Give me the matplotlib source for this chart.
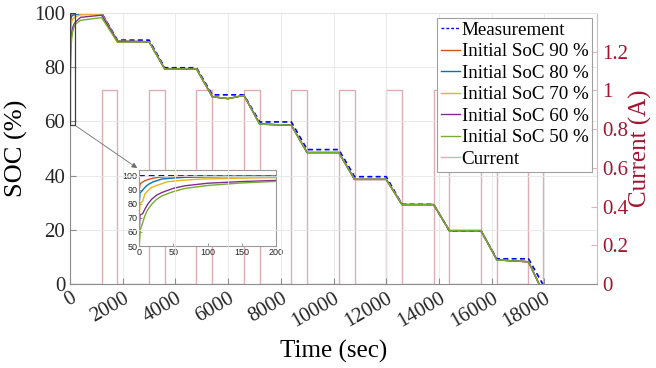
import matplotlib
matplotlib.use("Agg")
import matplotlib.pyplot as plt
from matplotlib.lines import Line2D

plt.rcParams["font.family"] = ["Liberation Serif", "DejaVu Serif"]

# Measured state of charge (%)
t_meas = [0, 1200, 1800, 3000, 3600, 4800, 5400, 6600, 7200, 8400, 9000,
          10200, 10800, 12000, 12600, 13800, 14400, 15600, 16200, 17400, 17940]
soc_meas = [100, 100, 90.0, 90.0, 79.8, 79.8, 69.8, 69.8, 59.8, 59.8, 49.6,
            49.6, 39.6, 39.6, 29.4, 29.4, 19.5, 19.5, 9.3, 9.3, 0]

# Estimator start-up for each initial SoC guess (first 1800 s)
t_init_90 = [0, 1, 2, 5, 10, 20, 30, 45, 60, 100, 150, 200, 400, 1200, 1800]
soc_init_90 = [90, 93.5, 94.5, 95.5, 96.8, 98.2, 98.9, 99.3, 99.5, 99.7, 99.8, 99.8, 99.9, 99.9, 89.7]

t_init_80 = [0, 1, 3, 6, 10, 14, 20, 33, 50, 67, 100, 150, 200, 400, 1200, 1800]
soc_init_80 = [80, 88, 88.5, 90.4, 92.5, 94, 95.5, 97.6, 98.3, 98.8, 99.1, 99.3, 99.4, 99.7, 99.8, 89.6]

t_init_70 = [0, 1, 3, 5, 8, 12, 18, 25, 42, 60, 91, 150, 200, 400, 1200, 1800]
soc_init_70 = [70, 80.5, 81, 82, 86.8, 89, 91.6, 93, 95.7, 96.6, 97.6, 98.2, 98.6, 99.3, 99.5, 89.5]

t_init_60 = [0, 1, 3, 5, 8, 12, 18, 25, 33, 50, 67, 100, 150, 200, 400, 1200, 1800]
soc_init_60 = [60, 72, 72.5, 73, 76, 79.5, 83.2, 86, 88, 91, 92.8, 94.6, 95.8, 96.6, 98.4, 99.2, 89.4]

t_init_50 = [0, 1.5, 4, 8, 12, 18, 25, 33, 50, 67, 100, 150, 200, 400, 1200, 1800]
soc_init_50 = [50, 61.6, 65.2, 71.2, 75.5, 79.6, 83, 85.6, 88.7, 90.9, 93, 94.8, 95.9, 97.3, 98.3, 89.2]

# Estimated SoC after the estimators have converged (common to all runs)
t_common = [3000, 3600, 4800, 5400, 6000, 6600, 7200, 8400, 9000, 10200,
            10800, 12000, 12600, 13800, 14400, 15600, 16200, 17400, 17800]
soc_common = [89.4, 79.3, 79.4, 69.1, 68.4, 69.6, 59.0, 58.6, 48.5, 48.5,
              38.6, 38.6, 29.3, 29.3, 19.7, 19.7, 8.9, 8.2, 0]

# Discharge current pulses (A)
pulse_start = [1200, 3000, 4800, 6600, 8400, 10200, 12000, 13800, 15600, 17400]
pulse_end = [1800, 3600, 5400, 7200, 9000, 10800, 12600, 14400, 16200, 17940]
pulse_amp = 1.0

labels = ["Initial SoC 90 %", "Initial SoC 80 %", "Initial SoC 70 %",
          "Initial SoC 60 %", "Initial SoC 50 %"]
colors = ["#D95319", "#0072BD", "#EDB120", "#7E2F8E", "#77AC30"]
init_t = [t_init_90, t_init_80, t_init_70, t_init_60, t_init_50]
init_soc = [soc_init_90, soc_init_80, soc_init_70, soc_init_60, soc_init_50]

cur_t, cur_i = [0], [0]
for s, e in zip(pulse_start, pulse_end):
    cur_t += [s, s, e, e]
    cur_i += [0, pulse_amp, pulse_amp, 0]

red = "#A2142F"
pink = "#E2B3BC"
axis_gray = "#8C8C8C"

fig = plt.figure(figsize=(6.56, 3.68), dpi=100)
ax = fig.add_axes([70 / 656, 84 / 368, 527 / 656, 271 / 368])
ax2 = ax.twinx()

# Current on the right axis
ax2.plot(cur_t, cur_i, color=red, alpha=0.35, lw=1.0)
ax2.set_ylim(0, 1.4)
ax2.set_yticks([0, 0.2, 0.4, 0.6, 0.8, 1.0, 1.2])
ax2.set_yticklabels(["0", "0.2", "0.4", "0.6", "0.8", "1", "1.2"])
ax2.tick_params(axis="y", colors=red, labelsize=15, direction="in", length=4, width=0.8)
ax2.tick_params(axis="y", color=pink)
ax2.set_ylabel("Current (A)", color=red, fontsize=18, labelpad=1)
for side, sp in ax2.spines.items():
    sp.set_visible(False)
ax2.spines["right"].set_visible(True)
ax2.spines["right"].set_color(pink)

# SoC on the left axis
ax.set_zorder(ax2.get_zorder() + 1)
ax.patch.set_visible(False)
ax.plot(t_meas, soc_meas, color="#0000FF", lw=1.2, ls=(0, (3, 2)))
for tt, ss, c in zip(init_t, init_soc, colors):
    ax.plot(tt + t_common, ss + soc_common, color=c, lw=1.0)

ax.set_xlim(0, 20000)
ax.set_ylim(0, 100)
ax.set_xticks(range(0, 18001, 2000))
ax.set_yticks(range(0, 101, 20))
ax.grid(True, color="#E6E6E6", lw=0.6)
ax.set_axisbelow(True)
ax.tick_params(axis="both", labelsize=15, direction="in", length=4, width=0.8,
               color=axis_gray, labelcolor="#262626")
for lab in ax.get_xticklabels():
    lab.set_rotation(30)
    lab.set_ha("right")
    lab.set_va("top")
    lab.set_rotation_mode("anchor")
ax.set_xlabel("Time (sec)", fontsize=18, labelpad=6)
ax.set_ylabel("SOC (%)", fontsize=19, labelpad=4)
ax.spines["top"].set_color("#E6E6E6")
ax.spines["right"].set_visible(False)
ax.spines["left"].set_color(axis_gray)
ax.spines["bottom"].set_color(axis_gray)

# Zoom window marker and arrow to the inset
ax.add_patch(plt.Rectangle((0, 58.5), 200, 41.5, fill=False, ec="#404040", lw=0.9, zorder=5))

axin = fig.add_axes([139.3 / 656, 122 / 368, 136.7 / 656, 76 / 368])
axin.plot([0, 200], [100, 100], color="#0000FF", lw=1.4, ls=(0, (3, 2)))
for tt, ss, c in zip(init_t, init_soc, colors):
    axin.plot(tt, ss, color=c, lw=1.0)
axin.set_xlim(0, 200)
axin.set_ylim(50, 104)
axin.set_xticks([0, 50, 100, 150, 200])
axin.set_yticks([50, 60, 70, 80, 90, 100])
axin.tick_params(labelsize=6.5, direction="in", length=2, width=0.6, color="#8C8C8C",
                 labelcolor="#262626", pad=1.5)
for lab in axin.get_xticklabels() + axin.get_yticklabels():
    lab.set_family(["Liberation Sans", "DejaVu Sans"])
for sp in axin.spines.values():
    sp.set_color("#9A9A9A")
    sp.set_linewidth(0.8)

ax.annotate("", xy=(-0.015, 1.025), xycoords=axin.transAxes,
            xytext=(200, 58.5), textcoords="data",
            arrowprops=dict(arrowstyle="-|>", color="#6E6E6E", lw=0.6,
                            mutation_scale=8, shrinkA=0, shrinkB=0))

# Legend
handles = [Line2D([], [], color="#0000FF", lw=1.0, ls=(0, (2, 1.5)))]
handles += [Line2D([], [], color=c, lw=1.0) for c in colors]
handles += [Line2D([], [], color=red, alpha=0.35, lw=1.0)]
leg = ax.legend(handles, ["Measurement"] + labels + ["Current"], loc="upper right",
                fontsize=13.7, frameon=True, fancybox=False, framealpha=1,
                edgecolor="#A0A0A0", borderaxespad=0.25, borderpad=0.2,
                labelspacing=0.22, handlelength=1.0, handletextpad=0.1)
leg.get_frame().set_linewidth(0.8)
leg.set_zorder(10)

fig.savefig("out.png", dpi=100)
